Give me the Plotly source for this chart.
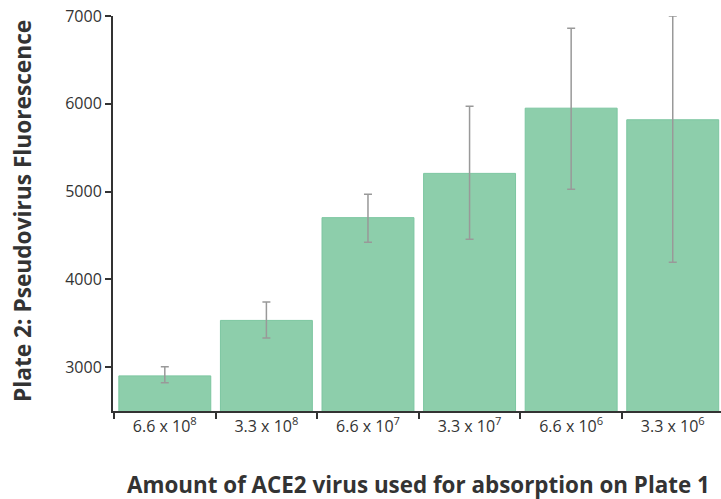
import plotly.graph_objects as go

# ---- data ----
categories = ["6.6 x 10<sup>8</sup>", "3.3 x 10<sup>8</sup>", "6.6 x 10<sup>7</sup>",
              "3.3 x 10<sup>7</sup>", "6.6 x 10<sup>6</sup>", "3.3 x 10<sup>6</sup>"]
values = [2900, 3532, 4703, 5207, 5950, 5818]
err_upper = [3003, 3741, 4968, 5973, 6860, 7000]
err_lower = [2821, 3331, 4422, 4456, 5025, 4195]
y_ticks = [3000, 4000, 5000, 6000, 7000]

x_idx = list(range(len(categories)))
boundaries = [i - 0.5 for i in x_idx]
plus = [u - v for u, v in zip(err_upper, values)]
minus = [v - l for v, l in zip(values, err_lower)]

fig = go.Figure()
fig.add_trace(go.Bar(
    x=x_idx, y=values, width=0.905,
    marker=dict(color="#8DCEAB", line=dict(color="#7CC6A0", width=1)),
    error_y=dict(type="data", symmetric=False, array=plus, arrayminus=minus,
                 color="#999999", thickness=1.5, width=4),
    hoverinfo="skip",
))

font_family = "Open Sans"
fig.update_layout(
    width=721, height=499,
    margin=dict(l=113, r=0, t=16, b=88),
    plot_bgcolor="white", paper_bgcolor="white",
    showlegend=False,
    font=dict(family=font_family, color="#333333", size=16),
    xaxis=dict(
        range=[-0.51, 5.475],
        tickmode="array", tickvals=x_idx, ticktext=categories,
        ticks="",
        showline=True, linecolor="#333333", linewidth=2,
        showgrid=False, zeroline=False,
        tickfont=dict(size=16, color="#333333"),
        minor=dict(tickmode="array", tickvals=boundaries, ticks="outside",
                   ticklen=6, tickwidth=2, tickcolor="#333333", showgrid=False),
    ),
    yaxis=dict(
        range=[2500, 7000],
        tickmode="array", tickvals=y_ticks,
        ticks="outside", ticklen=6, tickwidth=1.5, tickcolor="#333333",
        showline=True, linecolor="#333333", linewidth=2,
        showgrid=False, zeroline=False,
        tickfont=dict(size=16, color="#333333"),
    ),
    annotations=[
        dict(text="<b>Plate 2: Pseudovirus Fluorescence</b>", xref="paper", yref="paper",
             x=-0.150, y=0.506, textangle=-90, showarrow=False,
             font=dict(family=font_family, size=22.7, color="#333333"),
             xanchor="center", yanchor="middle"),
        dict(text="<b>Amount of ACE2 virus used for absorption on Plate 1</b>",
             xref="paper", yref="paper", x=0.503, y=-0.185, showarrow=False,
             borderpad=0,
             font=dict(family=font_family, size=22.4, color="#333333"),
             xanchor="center", yanchor="middle"),
    ],
)

fig.write_html(
    "out.html",
    config={"displayModeBar": False},
    post_script="document.body.style.margin='0';document.body.style.overflow='hidden';",
)
